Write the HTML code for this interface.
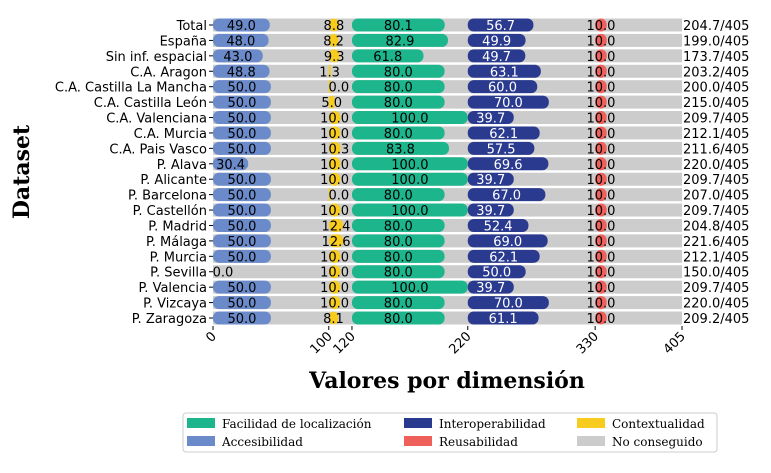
<!DOCTYPE html>
<html><head><meta charset="utf-8"><style>
body{margin:0;background:#fff;width:771px;height:468px;overflow:hidden}
#c text{font-family:"DejaVu Sans","Liberation Sans",sans-serif}
.serif{font-family:"DejaVu Serif","Liberation Serif",serif}
</style></head><body>
<svg id="c" width="771" height="468"></svg>
<script>
const categories=["Total","España","Sin inf. espacial","C.A. Aragon","C.A. Castilla La Mancha","C.A. Castilla León","C.A. Valenciana","C.A. Murcia","C.A. Pais Vasco","P. Alava","P. Alicante","P. Barcelona","P. Castellón","P. Madrid","P. Málaga","P. Murcia","P. Sevilla","P. Valencia","P. Vizcaya","P. Zaragoza"];
const accesibilidad=[49.0,48.0,43.0,48.8,50,50,50,50,50,30.4,50,50,50,50,50,50,0,50,50,50];
const contextualidad=[8.8,8.2,9.3,1.3,0.0,5.0,10,10,10.3,10,10,0.0,10,12.4,12.6,10,10,10,10,8.1];
const facilidad=[80.1,82.9,61.8,80,80,80,100,80,83.8,100,100,80,100,80,80,80,80,100,80,80];
const interoperabilidad=[56.7,49.9,49.7,63.1,60,70,39.7,62.1,57.5,69.6,39.7,67,39.7,52.4,69,62.1,50,39.7,70,61.1];
const reusabilidad=[10,10,10,10,10,10,10,10,10,10,10,10,10,10,10,10,10,10,10,10];
const totals=["204.7","199.0","173.7","203.2","200.0","215.0","209.7","212.1","211.6","220.0","209.7","207.0","209.7","204.8","221.6","212.1","150.0","209.7","220.0","209.2"];
const segStarts=[0,100,120,220,330];
const xTicks=[0,100,120,220,330,405];
const NS="http://www.w3.org/2000/svg";
const svg=document.getElementById('c');
const X0=213,X1=682,MAX=405;
const x=v=>X0+(v/MAX)*(X1-X0);
const y0=25,dy=(318-25)/19;
const y=i=>y0+i*dy;
function el(t,a,p){const e=document.createElementNS(NS,t);for(const k in a)e.setAttribute(k,a[k]);(p||svg).appendChild(e);return e;}
const series=[[accesibilidad,"#6b8ac9","#000",0],[contextualidad,"#f7cc1f","#000",1],[facilidad,"#1db68c","#000",2],[interoperabilidad,"#2a3a8f","#fff",3],[reusabilidad,"#f0605a","#000",4]];
const bh=13;
categories.forEach((c,i)=>{
  const g=el('g',{});
  
  
  const bg=el('rect',{x:X0,y:y(i)-bh/2,width:X1-X0,height:bh,fill:'#cccccc'},g);
  
  
  series.forEach(([arr,col,tc,s])=>{
    const v=arr[i],st=segStarts[s];
    const w=x(st+v)-x(st);
    const dw=Math.max(w,s===1?2:0);
    if(dw>0){
      const r=el('rect',{x:x(st),y:y(i)-bh/2,width:dw,height:bh,rx:Math.min(6,dw/2),fill:col},g);
      
      
    }
    const t=el('text',{x:x(st)+w/2+(v===0?10:0),y:y(i)+5,'text-anchor':'middle','font-size':13,fill:tc},g);
    t.textContent=v.toFixed(1);
    
    
  });
  const tt=el('text',{x:683,y:y(i)+5,'font-size':13},g);
  tt.textContent=totals[i]+"/405";
  
  
  el('line',{x1:X0-4,x2:X0,y1:y(i),y2:y(i),stroke:'#000'},g);
  const cl=el('text',{x:X0-6,y:y(i)+5,'text-anchor':'end','font-size':13},g);
  cl.textContent=c;
  
  
});
xTicks.forEach(v=>{
  el('line',{x1:x(v),x2:x(v),y1:326,y2:330,stroke:'#000'});
  const t=el('text',{x:0,y:0,'text-anchor':'end','font-size':13,transform:`translate(${x(v)+4},${337}) rotate(-45)`});
  t.textContent=v;
  
  
});
</script>
<svg width="771" height="468" style="position:absolute;left:0;top:0">
<text class="serif" x="447" y="388" text-anchor="middle" font-weight="bold" font-size="22">Valores por dimensión</text>
<text class="serif" transform="translate(29,172) rotate(-90)" text-anchor="middle" font-weight="bold" font-size="22">Dataset</text>
<g class="serif" font-size="12">
<rect x="183" y="413" width="534" height="39" rx="3" fill="#fff" stroke="#ccc"/>
<rect x="187" y="418" width="28" height="10" fill="#1db68c"/><text class="serif" x="222" y="428">Facilidad de localización</text>
<rect x="187" y="436" width="28" height="10" fill="#6b8ac9"/><text class="serif" x="222" y="446">Accesibilidad</text>
<rect x="404" y="418" width="28" height="10" fill="#2a3a8f"/><text class="serif" x="439" y="428">Interoperabilidad</text>
<rect x="404" y="436" width="28" height="10" fill="#f0605a"/><text class="serif" x="439" y="446">Reusabilidad</text>
<rect x="577" y="418" width="28" height="10" fill="#f7cc1f"/><text class="serif" x="612" y="428">Contextualidad</text>
<rect x="577" y="436" width="28" height="10" fill="#cccccc"/><text class="serif" x="612" y="446">No conseguido</text>
</g>
</svg>
</body></html>
